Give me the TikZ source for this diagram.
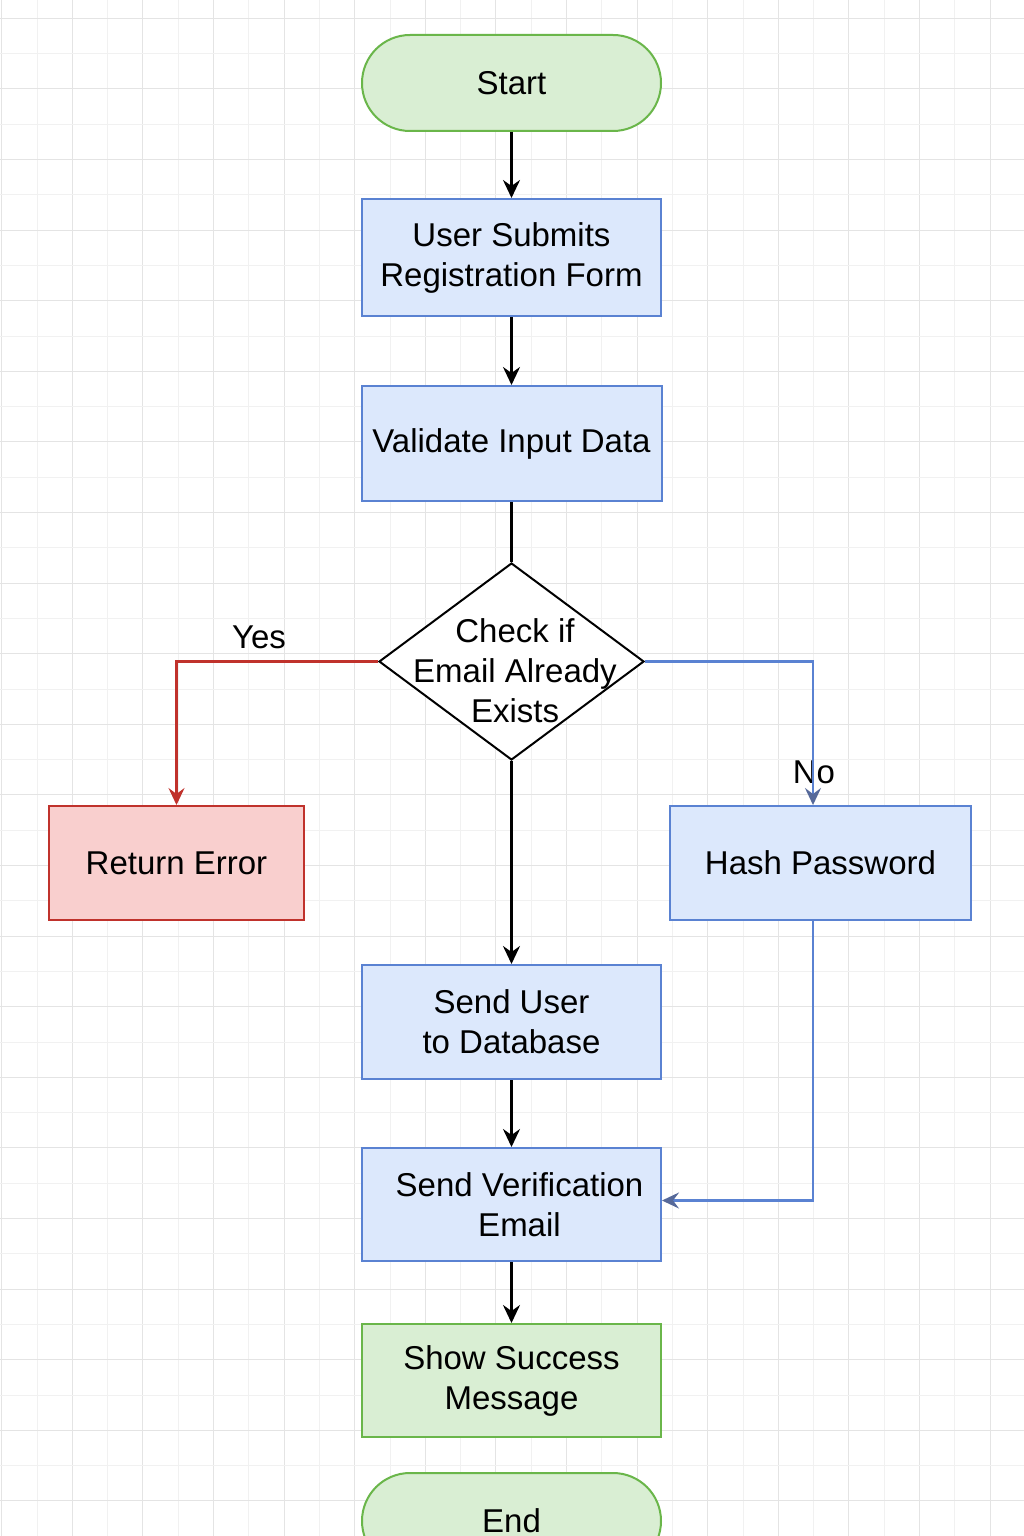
\documentclass[tikz,border=0pt]{standalone}
\usepackage{fontspec}
\setmainfont{Liberation Sans}
\usetikzlibrary{shapes.geometric,arrows.meta}
\definecolor{gfill}{HTML}{D9EED3}
\definecolor{gdraw}{HTML}{6AB64A}
\definecolor{bfill}{HTML}{DCE8FC}
\definecolor{bdraw}{HTML}{5A82D2}
\definecolor{rfill}{HTML}{F9CFCE}
\definecolor{rdraw}{HTML}{C0322C}
\definecolor{slate}{HTML}{56699A}
\definecolor{gridmaj}{HTML}{E4E4E4}
\definecolor{gridmin}{HTML}{F1F1F1}
\begin{document}
\begin{tikzpicture}[x=1pt,y=-1pt,
  txt/.style={font=\fontsize{33}{40}\selectfont, align=center, inner sep=1pt},
  stadium/.style={txt, draw=gdraw, fill=gfill, line width=2pt, rounded corners=48pt, minimum width=299pt, minimum height=96pt},
  bluebox/.style={txt, draw=bdraw, fill=bfill, line width=2pt, minimum width=299pt, minimum height=114pt},
  greenbox/.style={txt, draw=gdraw, fill=gfill, line width=2pt, minimum width=299pt, minimum height=113pt},
  redbox/.style={txt, draw=rdraw, fill=rfill, line width=2pt, minimum width=255pt, minimum height=114pt},
  decide/.style={diamond, draw=black, fill=white, line width=2pt, minimum width=265pt, minimum height=197pt, inner sep=0pt},
  flow/.style={draw=black, line width=2.6pt, -{Stealth[length=18pt,width=17pt,inset=6pt]}},
  plain/.style={draw=black, line width=2.4pt},
  redflow/.style={draw=rdraw, line width=2.2pt, -{Stealth[length=17pt,width=16pt,inset=6pt,fill=rdraw]}},
  blueflow/.style={draw=bdraw, line width=2.2pt, -{Stealth[length=17pt,width=16pt,inset=6pt,color=slate]}}
]
\useasboundingbox (0,0) rectangle (1024,1536);
\clip (0,0) rectangle (1024,1536);
\fill[white] (0,0) rectangle (1024,1536);
% grid
\foreach \i in {0,...,29} {
  \pgfmathsetmacro{\xx}{1.7+35.3*\i}
  \pgfmathtruncatemacro{\odd}{mod(\i,2)}
  \ifnum\odd=0
    \draw[gridmaj, line width=1pt] (\xx,0) -- (\xx,1536);
  \else
    \draw[gridmin, line width=1pt] (\xx,0) -- (\xx,1536);
  \fi
}
\foreach \j in {0,...,44} {
  \pgfmathsetmacro{\yy}{-17+35.3*\j}
  \pgfmathtruncatemacro{\odd}{mod(\j,2)}
  \ifnum\odd=0
    \draw[gridmin, line width=1pt] (0,\yy) -- (1024,\yy);
  \else
    \draw[gridmaj, line width=1pt] (0,\yy) -- (1024,\yy);
  \fi
}
% nodes
\node[stadium] (start) at (511.5,83) {Start};
\node[bluebox, minimum height=117pt] (submit) at (511.5,257.5) {User Submits\\Registration Form};
\node[bluebox, minimum width=300pt, minimum height=115pt] (validate) at (511.5,443.5) {Validate Input Data};
\node[decide] (check) at (511.5,661.5) {};
\node[txt] (checktxt) at (515,671) {Check if\\Email Already\\Exists};
\node[redbox] (error) at (176.5,863) {Return Error};
\node[bluebox, minimum width=301pt] (hash) at (820.5,863) {Hash Password};
\node[bluebox] (senduser) at (511.5,1022) {Send User\\to Database};
\node[bluebox, minimum height=113pt] (verify) at (511.5,1204.5) {\hspace*{16pt}Send Verification\\\hspace*{16pt}Email};
\node[greenbox] (success) at (511.5,1380.5) {Show Success\\Message};
\node[stadium] (end) at (511.5,1521) {End};
\node[txt] (yes) at (259,637) {Yes};
\node[txt] (no) at (814,772) {No};
% connectors
\draw[flow] (start) -- (submit);
\draw[flow] (submit) -- (validate);
\draw[plain] (validate.south) -- (check.north);
\draw[redflow] (check.west) -| (error.north);
\draw[blueflow] (check.east) -| ([xshift=-7.5pt]hash.north);
\draw[flow] (check.south) -- (senduser.north);
\draw[blueflow] ([xshift=-7.5pt]hash.south) |- ([yshift=4pt]verify.east);
\draw[flow] (senduser) -- (verify);
\draw[flow] (verify) -- (success);
\end{tikzpicture}
\end{document}
